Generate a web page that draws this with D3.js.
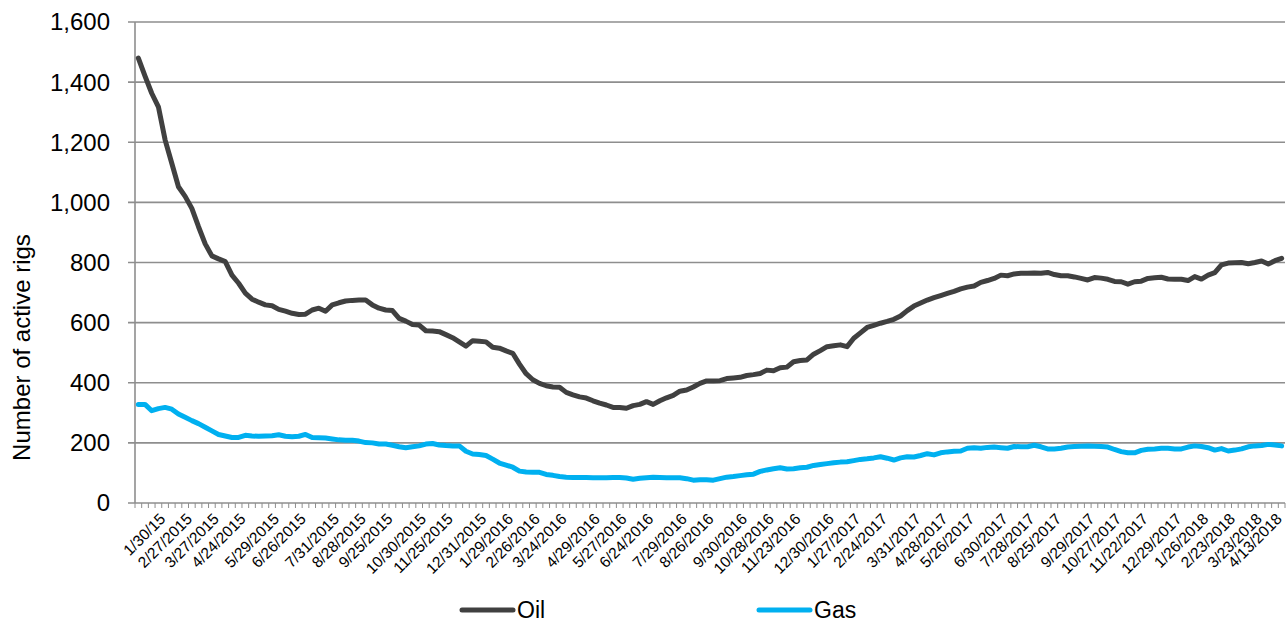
<!DOCTYPE html>
<html>
<head>
<meta charset="utf-8">
<script src="https://cdn.jsdelivr.net/npm/d3@7/dist/d3.min.js"></script>
<style>
  html, body { margin: 0; padding: 0; background: #fff; }
  svg { display: block; font-family: "Liberation Sans", Arial, sans-serif; }
</style>
</head>
<body>
<svg id="chart" width="1288" height="624"></svg>
<script>
// Weekly active rig counts, first week ending 1/30/2015
const oilRigs = [
  1480, 1420, 1363, 1318, 1208, 1130, 1052, 1020, 980, 919,
  862, 822, 812, 803, 758, 731, 698, 678, 668, 659,
  656, 644, 638, 631, 627, 628, 642, 648, 638, 659,
  666, 672, 674, 675, 675, 659, 648, 642, 640, 614,
  605, 594, 592, 573, 572, 570, 560, 550, 536, 522,
  540, 538, 536, 518, 515, 506, 498, 462, 430, 410,
  398, 390, 386, 385, 368, 360, 353, 349, 340, 332,
  326, 318, 318, 315, 324, 328, 337, 328, 340, 350,
  358, 372, 376, 386, 398, 406, 406, 407, 414, 416,
  418, 424, 427, 431, 442, 440, 450, 452, 470, 474,
  476, 495, 507, 520, 523, 526, 520, 548, 566, 584,
  591, 598, 604, 611, 622, 640, 655, 665, 675, 683,
  690, 697, 704, 712, 718, 722, 734, 740, 747, 758,
  756, 762, 764, 764, 765, 764, 767, 760, 756, 756,
  752, 747, 742, 750, 748, 744, 737, 736, 728, 736,
  738, 747, 749, 751, 745, 744, 744, 740, 753, 745,
  758, 766, 792, 798, 799, 800, 796, 800, 805, 795,
  806, 814
];

const gasRigs = [
  328, 328, 307, 314, 318, 312, 296, 285, 274, 264,
  252, 240, 228, 223, 218, 218, 225, 223, 222, 223,
  224, 227, 222, 220, 222, 228, 218, 217, 216, 213,
  210, 209, 209, 206, 201, 200, 196, 196, 192, 187,
  184, 187, 190, 196, 198, 193, 191, 190, 190, 172,
  163, 161, 158, 146, 133, 126, 119, 106, 103, 102,
  102, 95, 92, 88, 86, 85, 85, 85, 84, 84,
  84, 85, 85, 83, 79, 82, 84, 86, 85, 84,
  84, 84, 81, 76, 77, 77, 76, 81, 86, 88,
  91, 94, 96, 105, 110, 114, 117, 113, 114, 117,
  119, 125, 128, 131, 134, 136, 137, 141, 145, 147,
  150, 154, 149, 143, 150, 154, 153, 158, 164, 160,
  167, 170, 172, 173, 182, 184, 182, 185, 186, 184,
  182, 188, 187, 187, 192, 187, 180, 180, 182, 186,
  188, 189, 190, 189, 188, 186, 178, 171, 167, 167,
  175, 179, 180, 182, 182, 180, 180, 186, 190, 188,
  184, 176, 181, 173, 176, 180, 187, 190, 191, 195,
  193, 190
];

// Week positions that carry a date label, and the labels themselves
const tickWeeks = [
  0, 4, 8, 12, 17, 21, 26, 30, 34, 39, 43, 48,
  52, 56, 60, 65, 69, 73, 78, 82, 87, 91, 95, 100,
  104, 108, 113, 117, 121, 126, 130, 134, 139, 143, 147, 152,
  156, 160, 164, 167
];
const tickLabels = [
  "1/30/15", "2/27/2015", "3/27/2015", "4/24/2015", "5/29/2015", "6/26/2015",
  "7/31/2015", "8/28/2015", "9/25/2015", "10/30/2015", "11/25/2015", "12/31/2015",
  "1/29/2016", "2/26/2016", "3/24/2016", "4/29/2016", "5/27/2016", "6/24/2016",
  "7/29/2016", "8/26/2016", "9/30/2016", "10/28/2016", "11/23/2016", "12/30/2016",
  "1/27/2017", "2/24/2017", "3/31/2017", "4/28/2017", "5/26/2017", "6/30/2017",
  "7/28/2017", "8/25/2017", "9/29/2017", "10/27/2017", "11/22/2017", "12/29/2017",
  "1/26/2018", "2/23/2018", "3/23/2018", "4/13/2018"
];

const yTicks = [0, 200, 400, 600, 800, 1000, 1200, 1400, 1600];

const seriesNames = ["Oil", "Gas"];
const seriesColors = ["#404040", "#00b0f0"];

const svg = d3.select("#chart");
const plot = { left: 135, right: 1285, top: 22, bottom: 503 };
const gridColor = "#8e8e8e";

const weeks = d3.range(oilRigs.length);
const x = d3.scaleBand().domain(weeks).range([plot.left, plot.right]).padding(0);
const xc = i => x(i) + x.bandwidth() / 2;
const y = d3.scaleLinear().domain([0, 1600]).range([plot.bottom, plot.top]);

// Horizontal gridlines with short outer ticks on the value axis
svg.append("g")
  .selectAll("line")
  .data(yTicks.filter(v => v > 0))
  .join("line")
  .attr("x1", plot.left - 7).attr("x2", plot.right)
  .attr("y1", d => y(d)).attr("y2", d => y(d))
  .attr("stroke", gridColor).attr("stroke-width", 1.6);

// Value axis line
svg.append("line")
  .attr("x1", plot.left).attr("x2", plot.left)
  .attr("y1", plot.top).attr("y2", plot.bottom)
  .attr("stroke", gridColor).attr("stroke-width", 1.6);

// Category axis line and tick marks between weeks
svg.append("line")
  .attr("x1", plot.left - 7).attr("x2", plot.right)
  .attr("y1", plot.bottom).attr("y2", plot.bottom)
  .attr("stroke", gridColor).attr("stroke-width", 1.6);

svg.append("g")
  .selectAll("line")
  .data(d3.range(oilRigs.length + 1))
  .join("line")
  .attr("x1", d => plot.left + d * x.bandwidth())
  .attr("x2", d => plot.left + d * x.bandwidth())
  .attr("y1", plot.bottom).attr("y2", plot.bottom + 5)
  .attr("stroke", gridColor).attr("stroke-width", 1);

// Value axis labels
svg.append("g")
  .selectAll("text")
  .data(yTicks)
  .join("text")
  .attr("x", 110)
  .attr("y", d => y(d))
  .attr("dy", "0.35em")
  .attr("text-anchor", "end")
  .attr("font-size", 24)
  .attr("fill", "#000")
  .text(d => d3.format(",")(d));

// Value axis title
svg.append("text")
  .attr("transform", `translate(30, ${(plot.top + plot.bottom) / 2 + 85}) rotate(-90)`)
  .attr("text-anchor", "middle")
  .attr("font-size", 24)
  .attr("fill", "#000")
  .text("Number of active rigs");

// Date labels, slanted
svg.append("g")
  .selectAll("text")
  .data(tickWeeks)
  .join("text")
  .attr("transform", d => `translate(${xc(d) + 28}, ${plot.bottom + 17}) rotate(-45)`)
  .attr("text-anchor", "end")
  .attr("font-size", 15.5)
  .attr("fill", "#000")
  .text((d, i) => tickLabels[i]);

// Series lines
const line = d3.line().x((d, i) => xc(i)).y(d => y(d));
[oilRigs, gasRigs].forEach((vals, k) => {
  svg.append("path")
    .datum(vals)
    .attr("d", line)
    .attr("fill", "none")
    .attr("stroke", seriesColors[k])
    .attr("stroke-width", 5)
    .attr("stroke-linejoin", "round")
    .attr("stroke-linecap", "round");
});

// Legend
const legendX = [462, 759];
seriesNames.forEach((name, k) => {
  const g = svg.append("g").attr("transform", `translate(${legendX[k]}, 610)`);
  g.append("line")
    .attr("x1", 0).attr("x2", 51).attr("y1", 0).attr("y2", 0)
    .attr("stroke", seriesColors[k]).attr("stroke-width", 5)
    .attr("stroke-linecap", "round");
  g.append("text")
    .attr("x", 55).attr("y", 0).attr("dy", "0.35em")
    .attr("font-size", 23).attr("fill", "#000")
    .text(name);
});
</script>
</body>
</html>
